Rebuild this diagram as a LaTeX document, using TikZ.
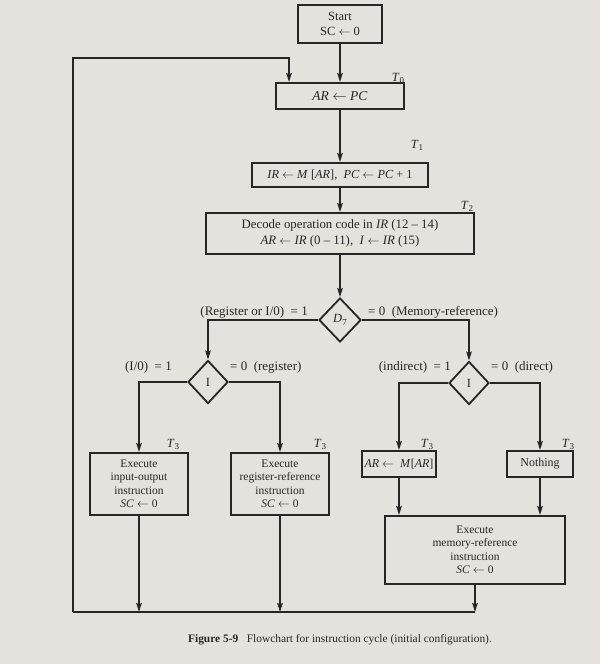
\documentclass[tikz,border=0pt]{standalone}
\usepackage{fontspec}
\setmainfont{Liberation Serif}
\usetikzlibrary{shapes.geometric,arrows.meta}
\definecolor{paper}{RGB}{228,226,220}
\definecolor{ink}{RGB}{40,38,36}
\newcommand{\rv}[1]{\textit{#1}}
\newcommand{\ga}{\ensuremath{\leftarrow}}
\newcommand{\tlab}[1]{\textit{T}\raisebox{-0.45ex}{\fontsize{9}{10}\selectfont #1}}
\begin{document}
\begin{tikzpicture}[x=1pt,y=-1pt,
  every node/.style={text=ink,font=\fontsize{11.5}{13.5}\selectfont},
  box/.style={draw=ink,line width=1.9pt,rectangle,inner sep=0pt,align=center},
  dec/.style={draw=ink,line width=1.8pt,diamond,inner sep=0pt,minimum width=40pt,minimum height=43pt},
  flow/.style={draw=ink,line width=2pt},
  arr/.style={flow,-{Stealth[length=9pt,width=5.5pt,inset=1.5pt]}},
  tl/.style={anchor=south,inner sep=0pt,font=\fontsize{12.5}{14}\selectfont},
  lab/.style={inner sep=0pt,font=\fontsize{13}{15}\selectfont}]
% page
\fill[paper] (0,0) rectangle (600,664);
\useasboundingbox (0,0) rectangle (600,664);

% sequential part
\node[box,minimum width=84pt,minimum height=38pt,font=\fontsize{12.5}{14.5}\selectfont] (start) at (340,24) {Start\\SC \ga\ 0};
\node[box,minimum width=128pt,minimum height=26pt,font=\fontsize{13.5}{15}\selectfont] (ar) at (340,96) {\rv{AR} \ga\ \rv{PC}};
\node[box,minimum width=176pt,minimum height=24pt,font=\fontsize{12.3}{14}\selectfont] (ir) at (340,175) {\rv{IR} \ga\ \rv{M} [\rv{AR}], \ \rv{PC} \ga\ \rv{PC} + 1};
\node[box,minimum width=268pt,minimum height=41pt,font=\fontsize{12.8}{16}\selectfont] (decode) at (340,233.5)
  {Decode operation code in \rv{IR} (12 -- 14)\\\rv{AR} \ga\ \rv{IR} (0 -- 11), \ \rv{I} \ga\ \rv{IR} (15)};

\node[tl] (t0) at (398,84) {\tlab{0}};
\node[tl] (t1) at (417,151) {\tlab{1}};
\node[tl] (t2) at (467,212) {\tlab{2}};

% decisions
\node[dec,minimum width=42pt,minimum height=44pt,font=\fontsize{12.5}{14}\selectfont] (d7) at (340,320) {\textit{D}\raisebox{-0.45ex}{\fontsize{9}{10}\selectfont 7}};
\node[dec,font=\fontsize{12.5}{14}\selectfont] (il) at (208,382) {I};
\node[dec,font=\fontsize{12.5}{14}\selectfont] (irr) at (469,383) {I};

\node[lab,anchor=east] (l1) at (308,312) {(Register or I/0) \ = 1};
\node[lab,anchor=west] (l2) at (368,312) {= 0 \ (Memory-reference)};
\node[lab,anchor=east] (l3) at (172,367) {(I/0) \ = 1};
\node[lab,anchor=west] (l4) at (230,367) {= 0 \ (register)};
\node[lab,anchor=east] (l5) at (451,367) {(indirect) \ = 1};
\node[lab,anchor=west] (l6) at (491,367) {= 0 \ (direct)};

% execution boxes
\node[box,minimum width=98pt,minimum height=62pt] (io) at (139,484)
  {Execute\\input-output\\instruction\\\rv{SC} \ga\ 0};
\node[box,minimum width=98pt,minimum height=62pt] (rr) at (280,484)
  {Execute\\register-reference\\instruction\\\rv{SC} \ga\ 0};
\node[box,minimum width=74pt,minimum height=26pt,font=\fontsize{12}{14}\selectfont] (arm) at (399,464) {\rv{AR} \ga\ \ \rv{M}[\rv{AR}]};
\node[box,minimum width=66pt,minimum height=26pt,font=\fontsize{12}{14}\selectfont] (noth) at (540,464) {Nothing};
\node[box,minimum width=180pt,minimum height=68pt] (mem) at (475,550)
  {Execute\\memory-reference\\instruction\\\rv{SC} \ga\ 0};

\node[tl] (t3a) at (173,450) {\tlab{3}};
\node[tl] (t3b) at (320,450) {\tlab{3}};
\node[tl] (t3c) at (427,450) {\tlab{3}};
\node[tl] (t3d) at (568,450) {\tlab{3}};

% return path
\coordinate (bl) at (73,612);
\coordinate (tlc) at (73,58);
\coordinate (lp) at (289,58);

% connectors
\draw[arr] (start.south) -- (start.south |- ar.north);
\draw[arr] (ar.south) -- (ar.south |- ir.north);
\draw[arr] (ir.south) -- (ir.south |- decode.north);
\draw[arr] (decode.south) -- (d7.north);
\draw[arr] (d7.west) -| (il.north);
\draw[arr] (d7.east) -| (irr.north);
\draw[arr] (il.west) -| (io.north);
\draw[arr] (il.east) -| (rr.north);
\draw[arr] (irr.west) -| (arm.north);
\draw[arr] (irr.east) -| (noth.north);
\draw[arr] (arm.south) -- (arm.south |- mem.north);
\draw[arr] (noth.south) -- (noth.south |- mem.north);
\draw[arr] (io.south) -- (io.south |- bl);
\draw[arr] (rr.south) -- (rr.south |- bl);
\draw[arr] (mem.south) -- (mem.south |- bl);
\draw[flow] (bl -| mem.south) -- (bl);
\draw[arr] (bl) -- (tlc) -- (lp) -- (lp |- ar.north);

% caption
\node[inner sep=0pt,font=\fontsize{11.4}{13}\selectfont] (cap) at (340,640)
  {\textbf{Figure 5-9} \ \ Flowchart for instruction cycle (initial configuration).};
\end{tikzpicture}
\end{document}
